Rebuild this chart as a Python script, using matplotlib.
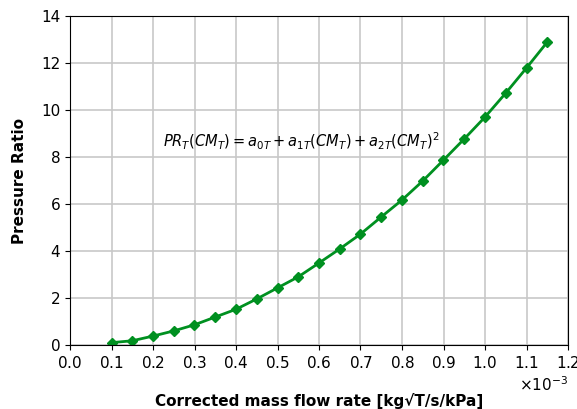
import numpy as np
import matplotlib.pyplot as plt
from matplotlib.ticker import ScalarFormatter

# corrected mass flow rate [kg sqrt(T)/s/kPa] and pressure ratio
mass_flow = [0.10e-3, 0.15e-3, 0.20e-3, 0.25e-3, 0.30e-3, 0.35e-3, 0.40e-3, 0.45e-3,
             0.50e-3, 0.55e-3, 0.60e-3, 0.65e-3, 0.70e-3, 0.75e-3, 0.80e-3, 0.85e-3,
             0.90e-3, 0.95e-3, 1.00e-3, 1.05e-3, 1.10e-3, 1.15e-3]
pressure_ratio = [0.10, 0.18, 0.38, 0.60, 0.86, 1.19, 1.52, 1.96,
                  2.43, 2.90, 3.49, 4.09, 4.72, 5.45, 6.17, 6.98,
                  7.87, 8.77, 9.70, 10.72, 11.79, 12.89]

fig = plt.figure(figsize=(5.77, 4.09), dpi=100)
ax = fig.add_axes([70/577, 64/409, 498/577, 329/409])

ax.plot(mass_flow, pressure_ratio, color='#009020', lw=2, marker='D', ms=5.5)
ax.grid(True, color='#c8c8c8', lw=1.2)
ax.set_axisbelow(True)

ax.set_xlim(0, 1.2e-3)
ax.set_ylim(0, 14)
ax.set_xticks(np.arange(0, 1.21e-3, 0.1e-3))
ax.set_yticks(np.arange(0, 15, 2))
fmt = ScalarFormatter(useMathText=True)
fmt.set_powerlimits((-3, 3))
ax.xaxis.set_major_formatter(fmt)
ax.tick_params(labelsize=11)
ax.xaxis.get_offset_text().set_fontsize(11)

ax.text(0.224e-3, 8.65, r'$PR_T(CM_T) = a_{0T} + a_{1T}(CM_T) + a_{2T}(CM_T)^2$',
        fontsize=10.5, va='center')

ax.set_xlabel('Corrected mass flow rate [kg√T/s/kPa]', fontsize=11, fontweight='bold', labelpad=16)
ax.set_ylabel('Pressure Ratio', fontsize=11, fontweight='bold', labelpad=10)

fig.savefig('out.png', dpi=100)
